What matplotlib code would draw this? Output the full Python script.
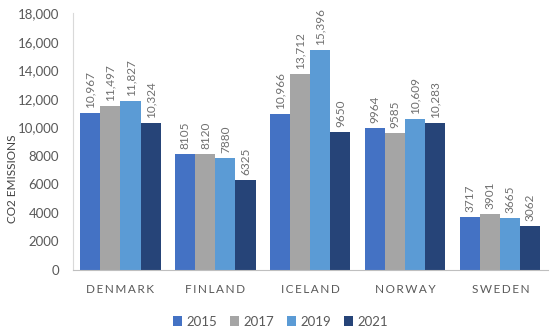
import numpy as np
import matplotlib
matplotlib.use('Agg')
import matplotlib.pyplot as plt

plt.rcParams['font.family'] = ['Lato', 'DejaVu Sans']

countries = ['DENMARK', 'FINLAND', 'ICELAND', 'NORWAY', 'SWEDEN']
years = ['2015', '2017', '2019', '2021']
y2015 = [10967, 8105, 10966, 9964, 3717]
y2017 = [11497, 8120, 13712, 9585, 3901]
y2019 = [11827, 7880, 15396, 10609, 3665]
y2021 = [10324, 6325, 9650, 10283, 3062]
series = [y2015, y2017, y2019, y2021]
colors = ['#4472C4', '#A5A5A5', '#5B9BD5', '#264478']

def fmt(v):
    # thousands separator only for 5-digit numbers, like the original
    return f"{v:,}" if v >= 10000 else str(v)

fig = plt.figure(figsize=(5.5, 3.28), dpi=100)
ax = fig.add_axes([0.1327, 0.1768, 0.8633, 0.7832])

x = np.arange(len(countries))
w = 0.211
for i, (vals, c) in enumerate(zip(series, colors)):
    pos = x + (i - 1.5) * w
    ax.bar(pos, vals, width=w, color=c, label=years[i])
    for p, v in zip(pos, vals):
        ax.text(p, v + 350, fmt(v), rotation=90, ha='center', va='bottom',
                fontsize=8.5, color='#6F6F6F')

ax.set_xlim(-0.5, len(countries) - 0.5)
ax.set_ylim(0, 18000)
ax.set_yticks(np.arange(0, 18001, 2000))
ax.set_yticklabels([fmt(t) for t in range(0, 18001, 2000)], fontsize=9.5, color='#595959')
ax.set_xticks(x)
ax.set_xticklabels(['\u2009'.join(c) for c in countries], fontsize=8.5, color='#595959')
ax.tick_params(axis='both', length=0)
ax.tick_params(axis='y', pad=10)
ax.tick_params(axis='x', pad=10)

for s in ['top', 'right']:
    ax.spines[s].set_visible(False)
ax.spines['left'].set_color('#D9D9D9')
ax.spines['bottom'].set_color('#BFBFBF')

fig.text(0.022, 0.455, 'CO2 EMISSIONS', rotation=90, ha='center', va='center',
         fontsize=8.5, color='#404040')

fig.legend(loc='lower center', bbox_to_anchor=(0.51, -0.035), ncol=4, frameon=False,
           fontsize=9.5, handlelength=0.7, handleheight=0.7, handletextpad=0.3,
           columnspacing=1.0, labelcolor='#595959')

fig.savefig('out.png', dpi=100)
